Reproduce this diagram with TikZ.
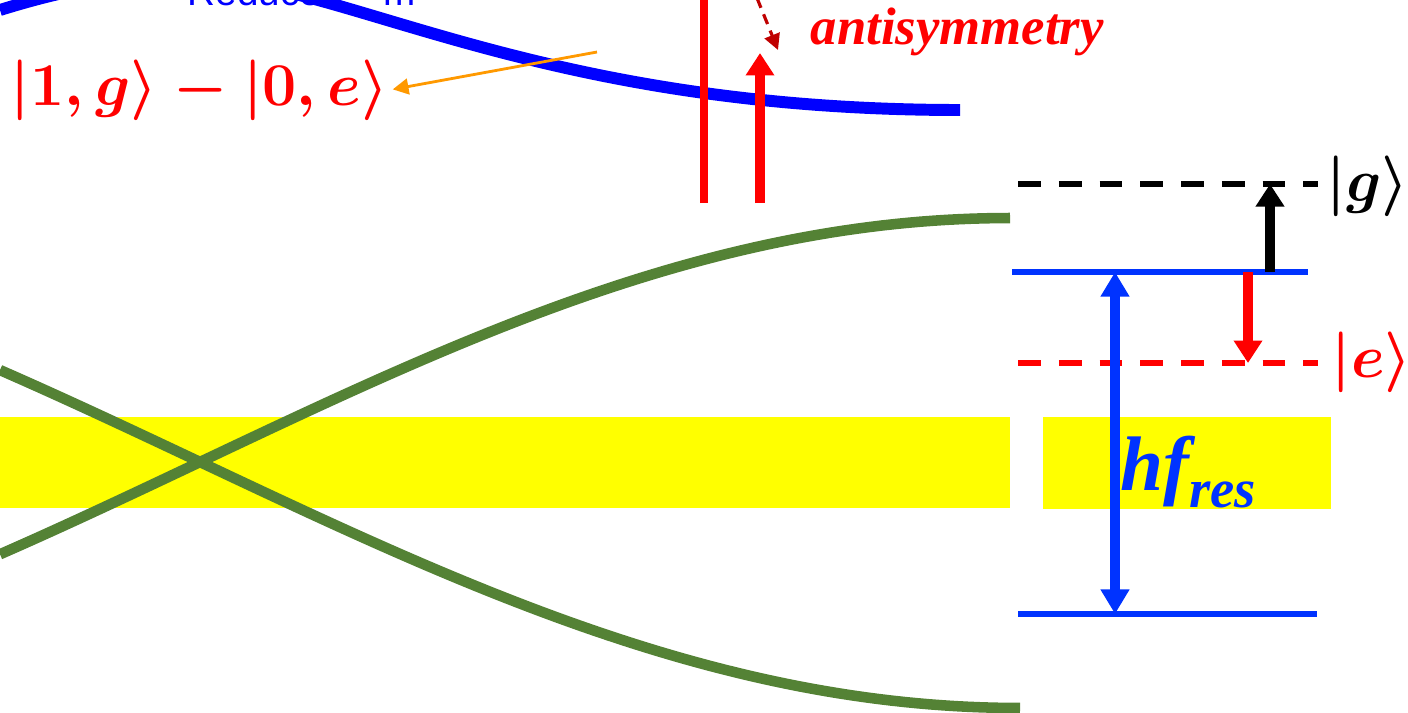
\documentclass[tikz,border=0pt]{standalone}
\usepackage{amsmath}
\usepackage{fontspec}
\setmainfont{Liberation Serif}
\setsansfont{Liberation Sans}
\usepackage{xcolor}
\usetikzlibrary{arrows.meta}

\definecolor{curveblue}{RGB}{0,0,255}
\definecolor{levelblue}{RGB}{0,51,255}
\definecolor{branchgreen}{RGB}{84,130,53}
\definecolor{bandyellow}{RGB}{255,255,0}
\definecolor{pointerorange}{RGB}{255,153,0}
\definecolor{hintred}{RGB}{192,0,0}

\begin{document}
\begin{tikzpicture}[x=0.1mm, y=-0.1mm,
    branch/.style={line width=3pt, branchgreen},
    level/.style={line width=1.8pt, levelblue},
    dashlevel/.style={line width=1.7pt, dash pattern=on 6.5pt off 5.1pt},
    jump/.style={line width=2.6pt, -{Triangle[width=7.8pt,length=6.4pt]}},
    ket/.style={inner sep=0pt, anchor=west, font=\fontsize{17.5}{20}\selectfont\boldmath}]

    \useasboundingbox (0,0) rectangle (1408,712);
    \clip (0,0) rectangle (1408,712);

    % Resonance band
    \fill[bandyellow] (0,417) rectangle (1010,508);
    \fill[bandyellow] (1043,417) rectangle (1331,509);

    % Branches
    \draw[branch] plot[domain=0:1010, samples=80] (\x, {462-244*sin((\x-200)/9)});
    \draw[branch] plot[domain=0:1020, samples=80] (\x, {462+246*sin((\x-200)/9.111)});
    \draw[line width=3.4pt, curveblue] (0,10) .. controls (80,-15) and (140,-22) .. (190,-22)
        .. controls (340,-22) and (530,110) .. (960,110);
    \node[anchor=base west, inner sep=0pt, text=curveblue, font=\sffamily\fontsize{11}{13}\selectfont] (reduced) at (187,5) {Reduced\hspace{1.05em}m};

    % Mixed state
    \node[ket, text=red] (mixed) at (10,90) {$|1,g\rangle - |0,e\rangle$};
    \coordinate (ptail) at (597,52);
    \draw[pointerorange, line width=0.8pt, -{Triangle[width=4.5pt,length=4.5pt]}, shorten >=1pt] (ptail) -- (mixed.east);

    % Antisymmetry
    \node[anchor=base west, inner sep=0pt, text=red, font=\fontsize{15}{18}\selectfont\bfseries\itshape] (anti) at (810,44) {antisymmetry};
    \coordinate (htail) at (757,-2);
    \coordinate (hhead) at (778,50);
    \draw[hintred, line width=0.9pt, dash pattern=on 3pt off 2pt, -{Triangle[width=4.5pt,length=4.5pt]}] (htail) -- (hhead);

    % Red transitions
    \coordinate (rtopA) at (704,-5);
    \coordinate (rbotA) at (704,203);
    \coordinate (rbotB) at (760,203);
    \coordinate (rtopB) at (760,53);
    \draw[red, line width=2.3pt] (rbotA) -- (rtopA);
    \draw[red, jump] (rbotB) -- (rtopB);

    % Levels
    \coordinate (gL) at (1018,184);
    \coordinate (gR) at (1318,184);
    \coordinate (eL) at (1018,363);
    \coordinate (eR) at (1318,363);
    \coordinate (upL) at (1012,272);
    \coordinate (upR) at (1308,272);
    \coordinate (loL) at (1018,614);
    \coordinate (loR) at (1317,614);
    \draw[dashlevel] (gL) -- (gR);
    \draw[dashlevel, red] (eL) -- (eR);
    \draw[level] (upL) -- (upR);
    \draw[level] (loL) -- (loR);
    \node[ket] (g) at (1326,186) {$|g\rangle$};
    \node[ket, text=red] (e) at (1331,362) {$|e\rangle$};

    % Shifts
    \coordinate (gup) at (1270,272);
    \coordinate (edown) at (1248,272);
    \coordinate (hftop) at (1115,272);
    \draw[jump] (gup) -- (gup |- gL);
    \draw[jump, red] (edown) -- (edown |- eL);
    \draw[jump, levelblue, {Triangle[width=7.8pt,length=7pt]}-{Triangle[width=7.8pt,length=7pt]}] (hftop) -- (hftop |- loL);
    \node[anchor=base west, inner sep=0pt, text=levelblue, font=\fontsize{22}{26}\selectfont\bfseries\itshape] (hf) at (1120,490) {hf\raisebox{-5pt}{\fontsize{15.5}{18}\selectfont res}};
\end{tikzpicture}
\end{document}
